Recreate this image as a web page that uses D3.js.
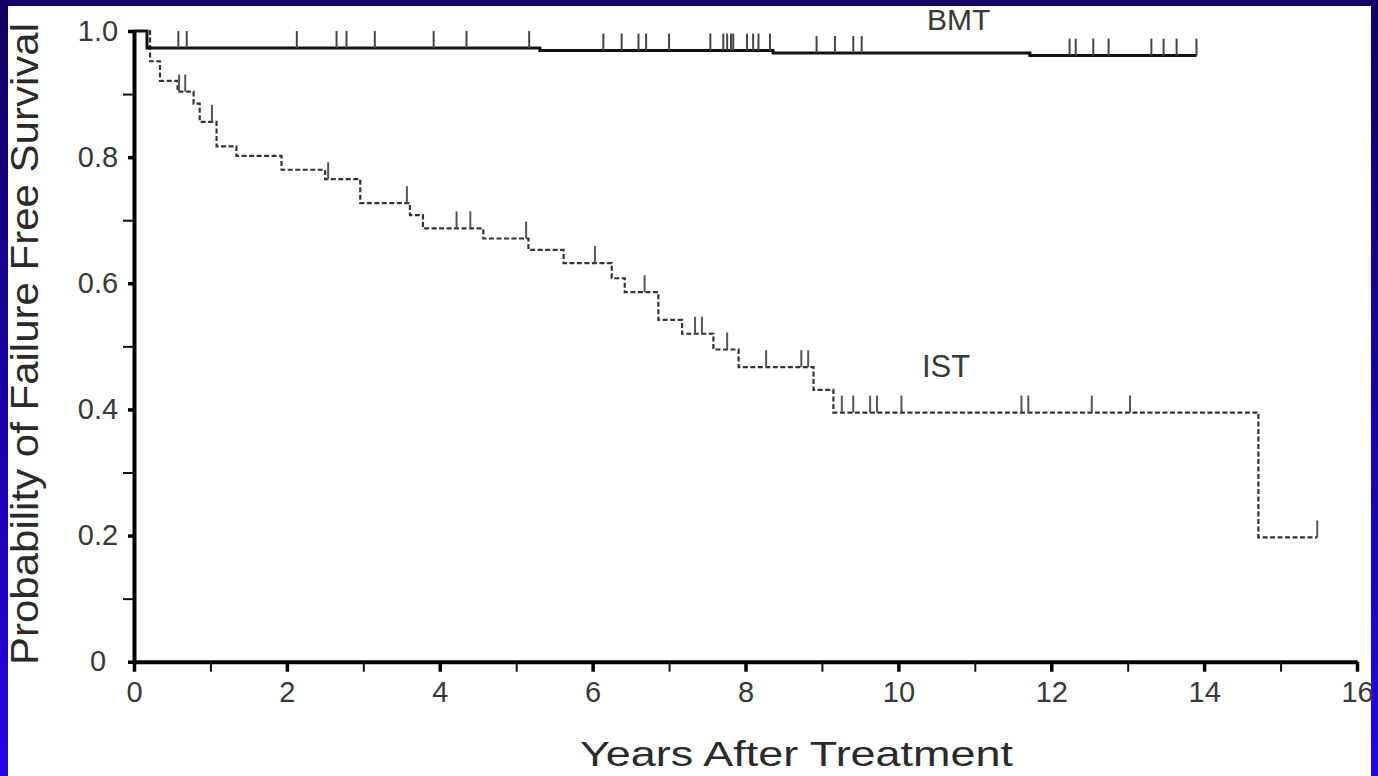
<!DOCTYPE html>
<html>
<head>
<meta charset="utf-8">
<script src="https://cdn.jsdelivr.net/npm/d3@7"></script>
<style>
  body { margin: 0; background: #1a0099; }
  text { font-family: "Liberation Sans", Arial, sans-serif; fill: #2a2a2a; }
</style>
</head>
<body>
<div id="kmchart"></div>
<script>
// step curves (years, probability)
const bmtTimes  = [0, 0.17, 5.31, 8.36, 11.72];
const bmtValues = [1.0, 0.973, 0.969, 0.965, 0.961];
const bmtCensored = [0.58, 0.69, 2.13, 2.65, 2.78, 3.15, 3.92, 4.35, 5.17, 6.14, 6.38, 6.60, 6.70,
    7.00, 7.54, 7.71, 7.76, 7.81, 7.84, 8.02, 8.10, 8.17, 8.32, 8.93, 9.17, 9.41, 9.52,
    12.24, 12.32, 12.55, 12.75, 13.31, 13.47, 13.64, 13.90];

const istTimes  = [0, 0.21, 0.34, 0.57, 0.78, 0.86, 1.08, 1.34, 1.93, 2.50, 2.96, 3.61, 3.78,
    4.57, 5.16, 5.62, 6.25, 6.42, 6.86, 7.17, 7.58, 7.91, 8.89, 9.15, 14.71];
const istValues = [1.0, 0.952, 0.921, 0.904, 0.885, 0.856, 0.817, 0.802, 0.780, 0.765, 0.727, 0.708, 0.687,
    0.671, 0.653, 0.632, 0.608, 0.586, 0.542, 0.520, 0.495, 0.467, 0.431, 0.395, 0.197];
const istCensored = [0.59, 0.67, 1.02, 2.54, 3.57, 4.22, 4.40, 5.13, 6.03, 6.68, 7.34, 7.43, 7.76,
    8.27, 8.73, 8.82, 9.26, 9.41, 9.63, 9.72, 10.04, 11.61, 11.70, 12.53, 13.03, 15.48];

const xMajor = [0, 2, 4, 6, 8, 10, 12, 14, 16];
const xMinor = [1, 3, 5, 7, 9, 11, 13, 15];
const yMajor = [0, 0.2, 0.4, 0.6, 0.8, 1.0];
const yMinor = [0.1, 0.3, 0.5, 0.7, 0.9];
const yLabels = ["0", "0.2", "0.4", "0.6", "0.8", "1.0"];

var W = 1378, H = 776;

var svg = d3.select("#kmchart")
    .append("svg")
        .attr("width", W)
        .attr("height", H);

var grad = svg.append("defs").append("linearGradient")
    .attr("id", "frame")
    .attr("x1", 0).attr("y1", 0).attr("x2", 0).attr("y2", 1);
grad.append("stop").attr("offset", "0%").attr("stop-color", "#0f0062");
grad.append("stop").attr("offset", "100%").attr("stop-color", "#2406e4");

svg.append("rect").attr("width", W).attr("height", H).attr("fill", "url(#frame)");
svg.append("rect").attr("x", 8).attr("y", 6).attr("width", 1363).attr("height", 770).attr("fill", "#fff");

var x = d3.scaleLinear().domain([0, 16]).range([134, 1357]);
var y = d3.scaleLinear().domain([0, 1]).range([661.7, 31]);

// x axis
var gx = svg.append("g")
    .attr("transform", "translate(0," + y(0) + ")")
    .call(d3.axisBottom(x).tickValues(xMajor).tickSize(10).tickSizeOuter(0).tickPadding(10));
gx.select(".domain").attr("stroke", "#000").attr("stroke-width", 4);
gx.selectAll(".tick line").attr("stroke", "#000").attr("stroke-width", 3.5);
gx.selectAll("text").attr("font-size", 29).style("fill", "#383838");

var gx2 = svg.append("g")
    .attr("transform", "translate(0," + y(0) + ")")
    .call(d3.axisBottom(x).tickValues(xMinor).tickSize(10).tickFormat(""));
gx2.select(".domain").remove();
gx2.selectAll(".tick line").attr("stroke", "#111").attr("stroke-width", 2);

// y axis
var gy = svg.append("g")
    .attr("transform", "translate(" + x(0) + ",0)")
    .call(d3.axisLeft(y).tickValues(yMajor).tickSize(6).tickSizeOuter(0)
        .tickFormat(function(d, i) { return yLabels[i]; }));
gy.select(".domain").attr("stroke", "#000").attr("stroke-width", 4);
gy.selectAll(".tick line").attr("stroke", "#000").attr("stroke-width", 3.5);
gy.selectAll("text")
    .attr("font-size", 29)
    .attr("text-anchor", "middle")
    .attr("x", -36)
    .style("fill", "#383838");

var gy2 = svg.append("g")
    .attr("transform", "translate(" + x(0) + ",0)")
    .call(d3.axisLeft(y).tickValues(yMinor).tickSize(11).tickFormat(""));
gy2.select(".domain").remove();
gy2.selectAll(".tick line").attr("stroke", "#111").attr("stroke-width", 2);

// step curves
function stepPoints(times, values, end) {
    var pts = times.map(function(t, i) { return { t: t, v: values[i] }; });
    pts.push({ t: end, v: values[values.length - 1] });
    return pts;
}
function valueAt(times, values, t) {
    return values[d3.bisectRight(times, t) - 1];
}

var stepLine = d3.line()
    .curve(d3.curveStepAfter)
    .x(function(d) { return x(d.t) })
    .y(function(d) { return y(d.v) });

svg.append("path")
    .datum(stepPoints(istTimes, istValues, d3.max(istCensored)))
    .attr("fill", "none")
    .attr("stroke", "#333")
    .attr("stroke-width", 2.2)
    .attr("stroke-dasharray", "5,2.5")
    .attr("d", stepLine);

svg.append("path")
    .datum(stepPoints(bmtTimes, bmtValues, d3.max(bmtCensored)))
    .attr("fill", "none")
    .attr("stroke", "#111")
    .attr("stroke-width", 3)
    .attr("d", stepLine);

// censor marks
svg.append("g")
    .selectAll("line")
    .data(bmtCensored)
    .enter()
    .append("line")
        .attr("x1", function(d) { return x(d) })
        .attr("x2", function(d) { return x(d) })
        .attr("y1", function(d) { return y(valueAt(bmtTimes, bmtValues, d)) })
        .attr("y2", function(d) { return y(valueAt(bmtTimes, bmtValues, d)) - 17 })
        .attr("stroke", "#444")
        .attr("stroke-width", 2);

svg.append("g")
    .selectAll("line")
    .data(istCensored)
    .enter()
    .append("line")
        .attr("x1", function(d) { return x(d) })
        .attr("x2", function(d) { return x(d) })
        .attr("y1", function(d) { return y(valueAt(istTimes, istValues, d)) })
        .attr("y2", function(d) { return y(valueAt(istTimes, istValues, d)) - 17 })
        .attr("stroke", "#555")
        .attr("stroke-width", 2);

// labels
svg.append("text")
    .attr("x", 927).attr("y", 30)
    .attr("font-size", 30)
    .style("fill", "#383838")
    .text("BMT");

svg.append("text")
    .attr("x", 922).attr("y", 377)
    .attr("font-size", 31)
    .style("fill", "#383838")
    .text("IST");

svg.append("text")
    .attr("x", 796.5).attr("y", 766)
    .attr("font-size", 35)
    .attr("text-anchor", "middle")
    .attr("textLength", 433)
    .attr("lengthAdjust", "spacingAndGlyphs")
    .text("Years After Treatment");

svg.append("text")
    .attr("transform", "translate(38,344) rotate(-90)")
    .attr("font-size", 39)
    .attr("text-anchor", "middle")
    .attr("textLength", 642)
    .attr("lengthAdjust", "spacingAndGlyphs")
    .text("Probability of Failure Free Survival");
</script>
</body>
</html>
